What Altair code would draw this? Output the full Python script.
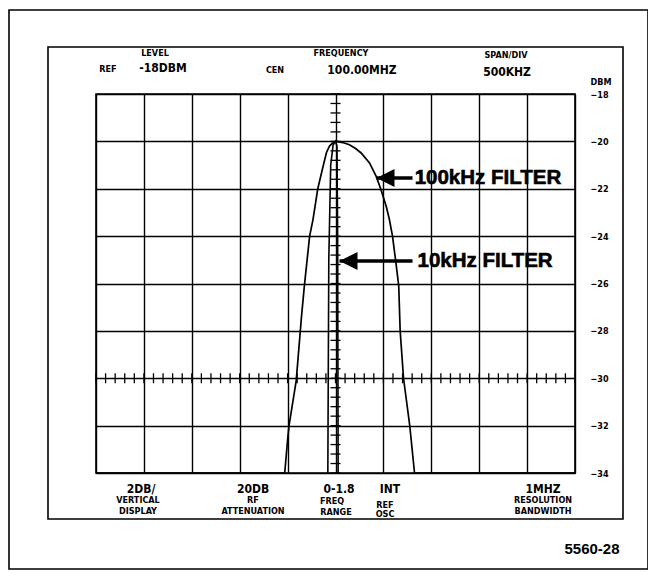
import altair as alt
import pandas as pd
import numpy as np

# ---------------- data ----------------
# 100 kHz filter trace (frequency in MHz, level in dBm)
f100_mhz = [97.5, 99.47, 99.50, 99.515, 99.59, 99.645, 99.675, 99.73, 99.765, 99.815,
            99.87, 99.905, 99.9375, 99.975, 100.01, 100.075, 100.145, 100.21, 100.2675,
            100.355, 100.425, 100.475, 100.53, 100.5625, 100.595, 100.63, 100.66, 100.675,
            100.71, 100.775, 100.825, 102.5]
f100_db = [-34.0, -34.0, -32.6, -32.0, -30.1, -27.4, -26.1, -24.0, -23.3, -22.0,
           -21.06, -20.48, -20.2, -20.05, -20.0, -20.05, -20.14, -20.3, -20.49,
           -20.91, -21.48, -22.04, -22.75, -23.3, -24.0, -25.1, -26.1, -28.0,
           -30.0, -32.0, -34.0, -34.0]

# 10 kHz filter trace
f10_mhz = [99.92, 99.93, 99.95, 99.975, 100.0, 100.015, 100.0225, 100.0275]
f10_db = [-34.0, -25.0, -21.0, -20.15, -20.0, -20.2, -24.0, -34.0]

# graticule
freq_grid = [97.5, 98.0, 98.5, 99.0, 99.5, 100.0, 100.5, 101.0, 101.5, 102.0, 102.5]
db_grid = [-18, -20, -22, -24, -26, -28, -30, -32, -34]

# screen read-outs
small_labels = ["LEVEL", "REF", "CEN", "FREQUENCY", "SPAN/DIV", "DBM",
                "VERTICAL", "DISPLAY", "RF", "ATTENUATION", "FREQ", "RANGE",
                "REF", "OSC", "RESOLUTION", "BANDWIDTH"]
value_labels = ["-18DBM", "100.00MHZ", "500KHZ", "2DB/", "20DB", "0-1.8", "INT", "1MHZ"]
filter_labels = ["100kHz FILTER", "10kHz FILTER"]
filter_tip_mhz = [100.428, 100.042]
filter_level_db = [-21.55, -25.05]
figure_label = ["5560-28"]

# ---------------- layout ----------------
W, H = 479, 379          # plot (graticule) area
VX, VY = 96, 94          # page position of graticule top-left
FONT_SMALL = "DejaVu Sans Condensed"

small_pos = [(155, 53), (108, 69), (275, 70), (341, 53), (506, 55), (601, 82),
             (138, 500), (138, 511), (253, 500), (253, 511), (332, 501), (336, 512),
             (385, 505), (385, 514), (543, 500), (543, 511)]
value_pos = [(163, 68), (362, 70), (507, 72), (141, 489), (253, 489), (339, 489),
             (390, 489), (543, 489)]
figure_pos = [(592, 549)]


def pix_df(labels, pos):
    return pd.DataFrame({"t": labels,
                         "px": [p[0] - VX for p in pos],
                         "py": [p[1] - VY for p in pos]})


xs = alt.Scale(domain=[97.5, 102.5], nice=False, zero=False)
ys = alt.Scale(domain=[-34, -18], nice=False, zero=False)

df100 = pd.DataFrame({"f": f100_mhz, "db": f100_db, "i": range(len(f100_mhz))})
df10 = pd.DataFrame({"f": f10_mhz, "db": f10_db, "i": range(len(f10_mhz))})

trace100 = alt.Chart(df100).mark_line(color="black", strokeWidth=1.7).encode(
    x=alt.X("f:Q", scale=xs,
            axis=alt.Axis(values=freq_grid, grid=True, labels=False, ticks=False,
                          domain=False, title=None, gridColor="black",
                          gridWidth=1.4, gridOpacity=1)),
    y=alt.Y("db:Q", scale=ys,
            axis=alt.Axis(orient="right", values=db_grid, grid=True, ticks=False,
                          domain=False, title=None, gridColor="black",
                          gridWidth=1.4, gridOpacity=1, labelPadding=24,
                          labelAlign="center", labelFont=FONT_SMALL,
                          labelFontWeight="bold", labelFontSize=9,
                          labelColor="black",
                          labelExpr="format(datum.value, 'd')")),
    order="i:Q",
)

trace10 = alt.Chart(df10).mark_line(color="black", strokeWidth=1.6).encode(
    x=alt.X("f:Q", scale=xs), y=alt.Y("db:Q", scale=ys), order="i:Q")

# minor ticks on the centre graticule lines
vt = pd.DataFrame({"f": 100.0, "db": np.arange(-34, -17.9, 0.4)})
ht = pd.DataFrame({"f": np.arange(97.5, 102.51, 0.1), "db": -30.0})
vticks = alt.Chart(vt).mark_tick(orient="horizontal", size=10, thickness=1.3,
                                 color="black", opacity=1).encode(
    x=alt.X("f:Q", scale=xs), y=alt.Y("db:Q", scale=ys))
hticks = alt.Chart(ht).mark_tick(orient="vertical", size=10, thickness=1.3,
                                 color="black", opacity=1).encode(
    x=alt.X("f:Q", scale=xs), y=alt.Y("db:Q", scale=ys))

# annotation arrows
arr = pd.DataFrame({"t": filter_labels, "tip": filter_tip_mhz,
                    "db": filter_level_db, "end": [100.804, 100.804],
                    "tx": [100.826, 100.856]})
shaft = alt.Chart(arr).mark_rule(color="black", strokeWidth=3.5).encode(
    x=alt.X("tip:Q", scale=xs), x2="end:Q", y=alt.Y("db:Q", scale=ys))
head = alt.Chart(arr).mark_point(shape="M0,0L2,-1L2,1Z", filled=True, color="black",
                                 opacity=1, size=324, strokeWidth=0).encode(
    x=alt.X("tip:Q", scale=xs), y=alt.Y("db:Q", scale=ys))
ftext = alt.Chart(arr).mark_text(align="left", baseline="middle", font="Liberation Sans",
                                 fontWeight="bold", fontSize=20.5, color="black",
                                 stroke="black", strokeWidth=0.6).encode(
    x=alt.X("tx:Q", scale=xs), y=alt.Y("db:Q", scale=ys), text="t:N")

# screen read-out texts (pixel positioned)
small_t = alt.Chart(pix_df(small_labels, small_pos)).mark_text(
    align="center", baseline="middle", font=FONT_SMALL, fontWeight="bold",
    fontSize=9, color="black").encode(
    x=alt.X("px:Q", scale=None), y=alt.Y("py:Q", scale=None), text="t:N")
value_t = alt.Chart(pix_df(value_labels, value_pos)).mark_text(
    align="center", baseline="middle", font=FONT_SMALL, fontWeight="bold",
    fontSize=12, color="black").encode(
    x=alt.X("px:Q", scale=None), y=alt.Y("py:Q", scale=None), text="t:N")
fig_t = alt.Chart(pix_df(figure_label, figure_pos)).mark_text(
    align="center", baseline="middle", font="Liberation Sans", fontWeight="bold",
    fontSize=15, color="black").encode(
    x=alt.X("px:Q", scale=None), y=alt.Y("py:Q", scale=None), text="t:N")

# boxes
inner = alt.Chart(pd.DataFrame({"a": [0]})).mark_rect(
    filled=False, stroke="black", strokeWidth=1.6).encode(
    x=alt.value(48 - VX), x2=alt.value(623 - VX),
    y=alt.value(47 - VY), y2=alt.value(519 - VY))
outer = alt.Chart(pd.DataFrame({"a": [0]})).mark_rect(
    filled=False, stroke="black", strokeWidth=1.6).encode(
    x=alt.value(9 - VX), x2=alt.value(648 - VX),
    y=alt.value(10 - VY), y2=alt.value(569 - VY))

chart = alt.layer(
    outer, inner, trace100, trace10, vticks, hticks, shaft, head, ftext,
    small_t, value_t, fig_t,
).properties(
    width=W, height=H,
    autosize=alt.AutoSizeParams(type="none"),
    padding={"left": VX - 8, "top": VY - 8, "right": 640 - (VX - 8) - W,
             "bottom": 562 - (VY - 8) - H},
    background="white",
).configure_view(stroke="black", strokeWidth=1.6)

chart.save("out.html", embed_options={"renderer": "svg", "actions": False})
